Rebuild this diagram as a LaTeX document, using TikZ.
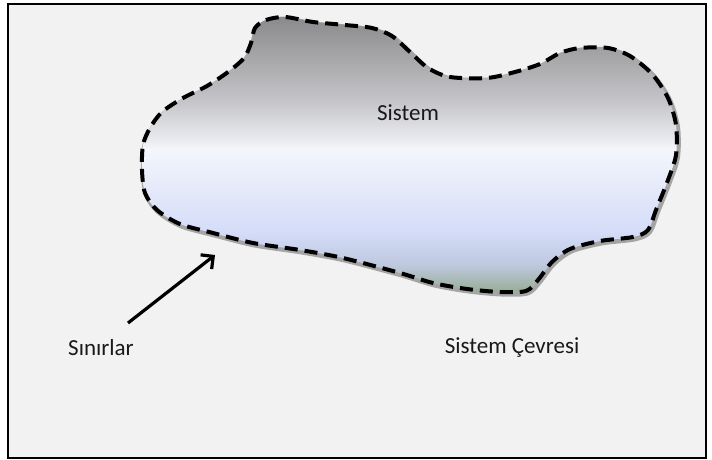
\documentclass[tikz,border=0pt]{standalone}
\usepackage{fontspec}
\setmainfont{Carlito}
\definecolor{BackColor}{RGB}{242,242,242}
\definecolor{RimColor}{RGB}{165,165,165}
\definecolor{TopGray}{RGB}{138,138,140}
\definecolor{MidGray}{RGB}{196,196,200}
\definecolor{PaleGray}{RGB}{232,233,238}
\definecolor{GlowWhite}{RGB}{244,246,252}
\definecolor{SoftBlue}{RGB}{212,220,248}
\definecolor{DuskBlue}{RGB}{190,200,222}
\definecolor{MossGreen}{RGB}{150,172,146}
\usetikzlibrary{arrows.meta}
\pgfdeclareverticalshading{systemshade}{100bp}{color(0bp)=(MossGreen); color(25bp)=(MossGreen); color(30bp)=(DuskBlue); color(36bp)=(SoftBlue); color(51bp)=(GlowWhite); color(53bp)=(PaleGray); color(60bp)=(MidGray); color(75bp)=(TopGray); color(100bp)=(TopGray)}
\tikzstyle{boundary} = [black, line width=4bp, dash pattern=on 13bp off 7bp]
\tikzstyle{rim} = [RimColor, line width=5bp]
\tikzstyle{systext} = [font=\fontsize{23bp}{28bp}\selectfont, text=black!90]
\tikzstyle{arrow} = [line width=3.2bp, -{Straight Barb[length=9bp, width=18bp]}]
\newcommand{\systemoutline}{plot[smooth cycle, tension=0.5] coordinates {(255,-28) (266,-20) (285,-17) (313,-22) (345,-25) (372,-28) (392,-36) (410,-52) (428,-68) (450,-77) (487,-78) (515,-72) (540,-64) (560,-53) (580,-48) (608,-48) (630,-56) (652,-74) (668,-98) (676,-125) (676,-155) (668,-180) (656,-210) (648,-230) (633,-237) (600,-241) (570,-249) (552,-262) (538,-280) (526,-291) (500,-292) (467,-289) (433,-283) (400,-273) (343,-258) (300,-250) (253,-243) (213,-233) (180,-224) (157,-210) (145,-193) (142,-170) (143,-145) (150,-128) (162,-112) (183,-98) (207,-86) (228,-72) (244,-58) (251,-43)}}
\begin{document}
\begin{tikzpicture}[x=1bp, y=1bp]
                \useasboundingbox (0,0) rectangle (712,-460);
                % Frame around the scene
                \draw[line width=2bp, fill=BackColor] (8,-4) rectangle (706,-458);

                % System with its soft rim
                \begin{scope}[shift={(1.5,-2)}]
                    \draw[rim] \systemoutline;
                \end{scope}
                \shade[shading=systemshade] \systemoutline;
                \draw[boundary] \systemoutline;

                % Texts
                \node[systext] (system) at (408,-113) {Sistem};
                \node[systext] (boundaries) at (101,-348) {Sınırlar};
                \node[systext] (surroundings) at (512,-348) {Sistem Çevresi};

                % Arrow to the boundary
                \coordinate (arrowtail) at (128,-323);
                \coordinate (arrowtip) at (215,-255);
                \draw[arrow] (arrowtail) -- (arrowtip);
            \end{tikzpicture}
\end{document}
